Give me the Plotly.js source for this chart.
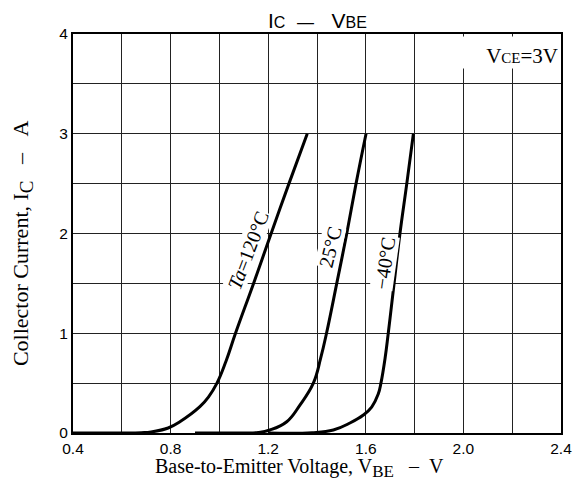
<!DOCTYPE html>
<html>
<head>
<meta charset="utf-8">
<script src="https://cdn.plot.ly/plotly-3.0.1.min.js"></script>
<style>html,body{margin:0;padding:0;background:#fff;}</style>
</head>
<body>
<div id="chart" style="width:577px;height:480px;"></div>
<script>
// Data (V_BE in volts, I_C in amperes)
const vbe120 = [0.40, 0.60, 0.68, 0.72, 0.79, 0.838, 0.92, 0.955, 0.99, 1.027, 1.066, 1.140, 1.212, 1.285, 1.36];
const ic120  = [0.00, 0.00, 0.003, 0.01, 0.05, 0.113, 0.264, 0.36, 0.50, 0.72, 1.00, 1.50, 2.00, 2.50, 3.00];

const vbe25 = [0.90, 1.10, 1.16, 1.207, 1.276, 1.330, 1.385, 1.415, 1.439, 1.481, 1.522, 1.560, 1.601];
const ic25  = [0.00, 0.00, 0.005, 0.03, 0.113, 0.28, 0.50, 0.75, 1.00, 1.50, 2.00, 2.50, 3.00];

const vbeM40 = [1.20, 1.38, 1.467, 1.535, 1.590, 1.624, 1.651, 1.662, 1.679, 1.692, 1.716, 1.740, 1.768, 1.795];
const icM40  = [0.00, 0.003, 0.03, 0.10, 0.18, 0.26, 0.39, 0.50, 0.75, 1.00, 1.50, 2.00, 2.50, 3.00];

const seriesNames = ["Ta=120°C", "25°C", "−40°C"];
const curveLabels = ["<i>Ta</i>=120°C", "25°C", "−40°C"];
const labelV = [1.118, 1.453, 1.679];
const labelI = [1.835, 1.868, 1.70];
const labelAngle = [-69, -76, -82];

const xTickVals = [0.4, 0.8, 1.2, 1.6, 2.0, 2.4];
const xTickText = ["0.4", "0.8", "1.2", "1.6", "2.0", "2.4"];
const yTickVals = [0, 1, 2, 3, 4];
const yTickText = ["0", "1", "2", "3", "4"];

const chartTitle = "I<span style='font-size:16px'>C</span>\u00a0\u00a0<span style='font-size:17px'>—</span>\u00a0\u00a0\u00a0V<span style='font-size:16px'>BE</span>";
const xTitle = "Base-to-Emitter Voltage, V<sub><span style='font-size:17px'>BE</span></sub>\u00a0\u00a0\u00a0–\u00a0\u00a0V";
const yTitle = "Collector Current, I<sub><span style='font-size:19px'>C</span></sub>\u00a0\u00a0\u00a0–\u00a0\u00a0\u00a0A";
const conditionText = "V<span style='font-size:15px'>CE</span>=3V";

const serif = "Liberation Serif, Times New Roman, serif";
const sans = "Liberation Sans, Arial, sans-serif";

const lineStyle = {color: "#000", width: 3, shape: "spline", smoothing: 1.2};
const traces = [
  {x: vbe120, y: ic120, name: seriesNames[0]},
  {x: vbe25, y: ic25, name: seriesNames[1]},
  {x: vbeM40, y: icM40, name: seriesNames[2]}
].map(t => Object.assign(t, {type: "scatter", mode: "lines", line: lineStyle, hoverinfo: "skip"}));

const annotations = curveLabels.map((txt, i) => ({
  x: labelV[i], y: labelI[i], xref: "x", yref: "y",
  text: txt, showarrow: false, textangle: labelAngle[i],
  font: {family: serif, size: 20, color: "#000"},
  bgcolor: "#fff", borderpad: 0
}));
// condition box (white background hides the grid behind it)
annotations.push({
  xref: "paper", yref: "paper", x: 1, y: 1, xanchor: "right", yanchor: "top",
  xshift: -2, yshift: -2,
  width: 137, height: 31, align: "right", valign: "bottom",
  text: conditionText,
  showarrow: false, bgcolor: "#fff", borderpad: 0,
  font: {family: serif, size: 21, color: "#000"}
});
// axis titles
annotations.push({
  xref: "paper", yref: "paper", x: 0.465, y: -0.088, xanchor: "center", yanchor: "middle",
  text: xTitle, showarrow: false,
  font: {family: serif, size: 20, color: "#000"}
});
annotations.push({
  xref: "paper", yref: "paper", x: -0.1045, y: 0.476, xanchor: "center", yanchor: "middle",
  text: yTitle, showarrow: false, textangle: -90,
  font: {family: serif, size: 22, color: "#000"}
});

const gridColor = "#222";
const layout = {
  width: 577, height: 480,
  margin: {l: 73, r: 16, t: 34, b: 47},
  paper_bgcolor: "#fff", plot_bgcolor: "#fff",
  showlegend: false,
  title: {
    text: chartTitle,
    font: {family: sans, size: 21, color: "#000"},
    x: 0.55, xanchor: "center", y: 0.956, yanchor: "middle"
  },
  xaxis: {
    range: [0.4, 2.4], tickvals: xTickVals, ticktext: xTickText,
    showgrid: true, gridcolor: gridColor, gridwidth: 1,
    minor: {dtick: 0.2, tick0: 0.4, showgrid: true, gridcolor: gridColor, gridwidth: 1},
    showline: true, linecolor: "#000", linewidth: 2, mirror: true,
    ticks: "", zeroline: false,
    tickfont: {family: sans, size: 15.5, color: "#000"}
  },
  yaxis: {
    range: [0, 4], tickvals: yTickVals, ticktext: yTickText,
    showgrid: true, gridcolor: gridColor, gridwidth: 1,
    minor: {dtick: 0.5, tick0: 0, showgrid: true, gridcolor: gridColor, gridwidth: 1},
    showline: true, linecolor: "#000", linewidth: 2, mirror: true,
    ticks: "", zeroline: false,
    tickfont: {family: sans, size: 15.5, color: "#000"}
  },
  annotations: annotations
};

Plotly.newPlot("chart", traces, layout, {staticPlot: true, displayModeBar: false});
</script>
</body>
</html>
